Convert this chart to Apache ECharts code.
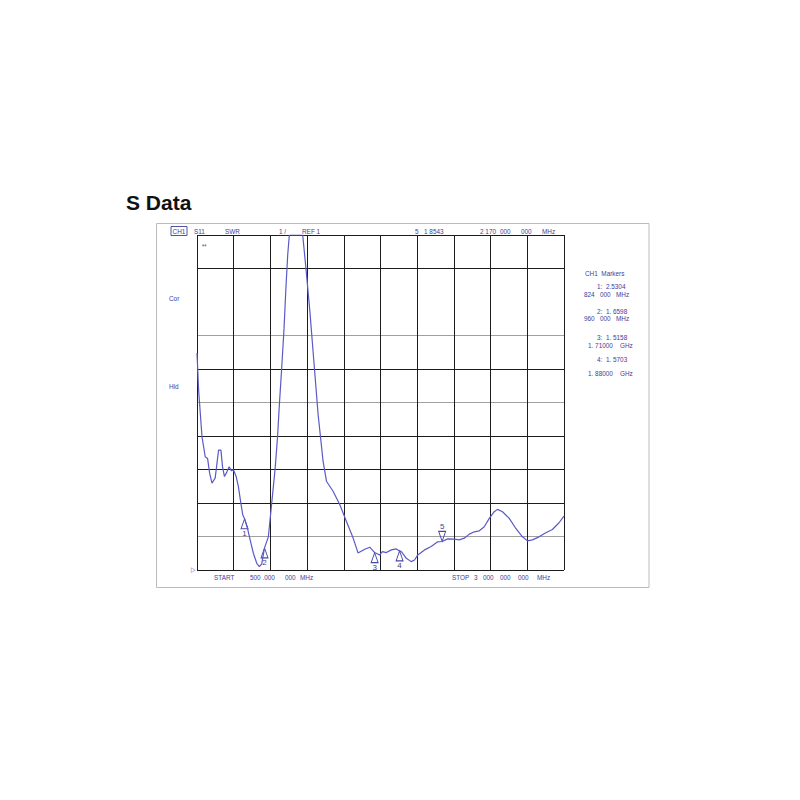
<!DOCTYPE html>
<html><head><meta charset="utf-8">
<script src="https://cdn.jsdelivr.net/npm/echarts@6/dist/echarts.min.js"></script>
<style>html,body{margin:0;padding:0;background:#fff}#c{width:800px;height:800px}</style>
</head><body><div id="c"></div>
<script>
// ---- data ----
const freqMHz = [500,511,534,556,572,586,602,624,647,663,
  674,687,704,719,735,748,767,782,799,812,
  824,844,862,884,907,925,941,960,986,1009,
  1032,1049,1061,1077,1093,1106,1118,1129,1220,1242,
  1269,1296,1325,1359,1382,1427,1473,1518,1563,1597,
  1609,1643,1677,1710,1744,1763,1790,1824,1858,1880,
  1892,1926,1959,1982,2004,2050,2095,2140,2170,2208,
  2253,2287,2321,2355,2389,2423,2457,2491,2525,2547,
  2581,2627,2672,2717,2751,2785,2830,2876,2921,2966,3000];
const swr = [7.48,6.37,4.98,4.38,4.33,3.89,3.59,3.75,4.58,4.58,
  4.08,3.79,3.93,4.08,3.96,3.99,3.79,3.49,2.99,2.64,
  2.53,2.24,1.90,1.50,1.20,1.10,1.18,1.66,1.99,3.00,
  4.01,5.00,5.93,7.03,8.22,9.45,10.41,11,11,10.01,
  8.72,7.23,5.64,4.24,3.65,3.35,2.95,2.45,1.96,1.51,
  1.54,1.62,1.68,1.52,1.45,1.55,1.52,1.60,1.63,1.57,
  1.55,1.35,1.25,1.30,1.45,1.60,1.70,1.84,1.85,1.93,
  1.92,1.90,1.95,2.07,2.14,2.17,2.29,2.54,2.74,2.81,
  2.74,2.54,2.24,1.99,1.87,1.90,1.99,2.11,2.21,2.41,2.61];
const markerNames = ['1','2','3','4','5'];
const markerFreqMHz = [824, 960, 1710, 1880, 2170];
const markerSWR = [2.5304, 1.6598, 1.5158, 1.5703, 1.8543];
const xStartMHz = 500, xStopMHz = 3000, xDivMHz = 250;
const yRef = 1, yTop = 11, yDiv = 1;
const titleText = 'S Data';
const headerTokens = ['CH1', 'S11', 'SWR', '1 /', 'REF 1', '5', '1 8543', '2 170', '000', '000', 'MHz'];
const footerTokens = ['START', '500 .000', '000', 'MHz', 'STOP', '3', '000', '000', '000', 'MHz'];
const sideTokens = ['Cor', 'Hld', '**', '▷'];
const markerPanelLines = ['CH1  Markers', '1:  2.5304', '824   000   MHz', '2:  1. 6598', '960   000   MHz',
  '3:  1. 5158', '1. 71000    GHz', '4:  1. 5703', '1. 88000    GHz'];

// ---- styles ----
const FF = '"Liberation Sans", Arial, sans-serif';
const NAVY = '#3e3e98';
const CURVE = '#5a5ac6';
const BLK = '#1c1c1c', GRY = '#a0a0a0', NONE = 'rgba(0,0,0,0)';

function txt(s, x, y, extra) {
  return {
    type: 'text', x: x, y: y, scaleX: 0.8, z: 100,
    style: Object.assign({ text: s, fill: NAVY, fontSize: 8, fontFamily: FF, verticalAlign: 'middle', align: 'left' }, extra || {})
  };
}

const headerX = [171, 194, 225, 279, 302, 415, 424, 480, 500, 521, 542];
const footerX = [214, 250, 285, 300, 452, 474, 483, 500, 518, 537];
const panelX = [585, 597, 584, 597, 584, 597, 588, 597, 588];
const panelY = [273, 286, 294, 311, 318, 337, 345, 359, 373];

const graphics = [
  { type: 'rect', z: 0, shape: { x: 156.5, y: 223.5, width: 492.5, height: 364 }, style: { fill: 'none', stroke: '#bcbcbc', lineWidth: 1 } }
];
headerTokens.forEach((s, i) => {
  const extra = i === 0 ? { borderColor: NAVY, borderWidth: 1, padding: [1, 2, 0, 2] } : {};
  graphics.push(txt(s, headerX[i], 231, extra));
});
footerTokens.forEach((s, i) => graphics.push(txt(s, footerX[i], 577)));
graphics.push(txt(sideTokens[0], 169, 298));
graphics.push(txt(sideTokens[1], 169, 386));
graphics.push(txt(sideTokens[2], 202, 246, { fontSize: 7 }));
graphics.push(txt(sideTokens[3], 191, 569, { fontSize: 7 }));
markerPanelLines.forEach((s, i) => graphics.push(txt(s, panelX[i], panelY[i])));

const lineData = freqMHz.map((f, i) => [f, swr[i]]);
const mpData = markerNames.map((n, i) => {
  const active = i === markerNames.length - 1;
  return {
    name: n, coord: [markerFreqMHz[i], markerSWR[i]],
    symbolRotate: active ? 180 : 0,
    symbolOffset: [0, active ? '-50%' : '50%'],
    label: { position: active ? 'top' : 'bottom', distance: 0 }
  };
});

const chart = echarts.init(document.getElementById('c'), null, { renderer: 'svg' });
chart.setOption({
  animation: false,
  backgroundColor: '#fff',
  title: { text: titleText, left: 121, top: 187, textStyle: { fontFamily: FF, fontWeight: 'bold', fontSize: 21, color: '#111' } },
  grid: { left: 197, right: 236, top: 235, bottom: 230, containLabel: false },
  xAxis: {
    type: 'value', min: xStartMHz, max: xStopMHz, interval: xDivMHz,
    axisLine: { show: false }, axisTick: { show: false }, axisLabel: { show: false },
    splitLine: { show: true, showMinLine: true, showMaxLine: true, lineStyle: { color: BLK, width: 1 } }
  },
  yAxis: {
    type: 'value', min: yRef, max: yTop, interval: yDiv,
    axisLine: { show: false }, axisTick: { show: false }, axisLabel: { show: false },
    splitLine: { show: true, showMinLine: true, showMaxLine: true,
      lineStyle: { color: [BLK, GRY, BLK, BLK, BLK, GRY, BLK, GRY, NONE, BLK, BLK], width: 1 } }
  },
  series: [{
    type: 'line', data: lineData, symbol: 'none', clip: true, z: 5,
    lineStyle: { color: CURVE, width: 1.2 },
    markPoint: {
      symbol: 'triangle', symbolSize: [7, 10],
      itemStyle: { color: 'rgba(255,255,255,0)', borderColor: '#4848a8', borderWidth: 1 },
      label: { show: true, formatter: '{b}', color: NAVY, fontSize: 8, fontFamily: FF },
      data: mpData
    }
  }],
  graphic: graphics
});
</script>
</body></html>
